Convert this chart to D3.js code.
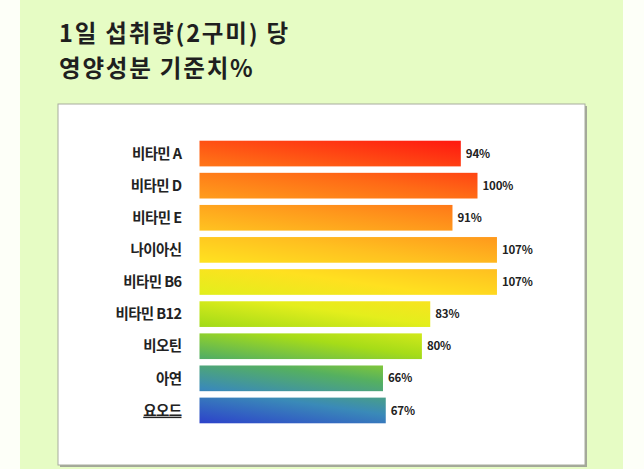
<!DOCTYPE html>
<html>
<head>
<meta charset="utf-8">
<script src="https://cdn.jsdelivr.net/npm/d3@7"></script>
<style>
  html, body { margin: 0; padding: 0; background: #fdfff8; }
  svg { display: block; font-family: "Noto Sans CJK KR", "Noto Sans", sans-serif; }
</style>
</head>
<body>
<svg id="chart" viewBox="0 0 644 469" width="644" height="469"></svg>
<script>
// nutrients (top to bottom) and % of daily value per 2 gummies
const categories = ["비타민 A", "비타민 D", "비타민 E", "나이아신", "비타민 B6", "비타민 B12", "비오틴", "아연", "요오드"];
const values = [94, 100, 91, 107, 107, 83, 80, 66, 67];
const titleLines = ["1일 섭취량(2구미) 당", "영양성분 기준치%"];

// gradient stops, blue bottom-left up to red top-right
const stopOffsets = [0, 0.12, 0.22, 0.32, 0.42, 0.52, 0.62, 0.72, 0.84, 1];
const stopColors = ["#2b3bcc", "#3a8ab8", "#55b060", "#a6dc18", "#e4ee1c", "#ffe020", "#ffc020", "#ff9a1c", "#ff6a16", "#ff1c10"];

const svg = d3.select("#chart");
const width = 644, height = 469;

// page background
svg.append("rect")
    .attr("x", 20).attr("y", 0)
    .attr("width", 603).attr("height", height)
    .attr("fill", "#e6fcc4");

// title, two lines
svg.append("g")
    .selectAll("text")
    .data(titleLines)
    .enter()
    .append("text")
    .attr("x", 59)
    .attr("y", (d, i) => 42 + i * 34.5)
    .attr("font-size", 23.5)
    .attr("font-weight", 700)
    .attr("fill", "#1f1f1f")
    .attr("letter-spacing", 1.8)
    .text(d => d);

// white panel with a little shadow
svg.append("rect")
    .attr("x", 60).attr("y", 106)
    .attr("width", 527).attr("height", 361)
    .attr("fill", "#a3a898");
svg.append("rect")
    .attr("x", 58).attr("y", 104)
    .attr("width", 527).attr("height", 361)
    .attr("fill", "#ffffff")
    .attr("stroke", "#a8ac9e")
    .attr("stroke-width", 1);

// scales
const x = d3.scaleLinear()
    .domain([0, 100])
    .range([199.5, 477.5]);

const y = d3.scaleBand()
    .domain(categories)
    .range([137.5, 426.5])
    .paddingInner(0.2)
    .paddingOuter(0.1);

// one gradient shared by all bars (user space, steep diagonal)
const defs = svg.append("defs");
const grad = defs.append("linearGradient")
    .attr("id", "barGrad")
    .attr("gradientUnits", "userSpaceOnUse")
    .attr("x1", x(0)).attr("y1", y.range()[1])
    .attr("x2", x(0) + 45).attr("y2", y.range()[1] - 314);
grad.selectAll("stop")
    .data(stopOffsets)
    .enter()
    .append("stop")
    .attr("offset", d => d)
    .attr("stop-color", (d, i) => stopColors[i]);

const rows = svg.append("g")
    .selectAll("g")
    .data(categories)
    .enter()
    .append("g");

// bars
rows.append("rect")
    .attr("x", x(0))
    .attr("y", d => y(d))
    .attr("width", (d, i) => x(values[i]) - x(0))
    .attr("height", y.bandwidth())
    .attr("fill", "url(#barGrad)");

// category labels
rows.append("text")
    .attr("x", 181.5)
    .attr("y", d => y(d) + y.bandwidth() / 2)
    .attr("dy", "0.36em")
    .attr("text-anchor", "end")
    .attr("font-size", 14.5)
    .attr("font-weight", 600)
    .attr("letter-spacing", -0.6)
    .attr("fill", "#222")
    .style("text-decoration", d => d === "요오드" ? "underline" : null)
    .text(d => d);

// value labels
rows.append("text")
    .attr("x", (d, i) => x(values[i]) + 5)
    .attr("y", d => y(d) + y.bandwidth() / 2)
    .attr("dy", "0.36em")
    .attr("font-size", 11.5)
    .attr("font-weight", 700)
    .attr("letter-spacing", -0.2)
    .attr("fill", "#222")
    .text((d, i) => values[i] + "%");
</script>
</body>
</html>
